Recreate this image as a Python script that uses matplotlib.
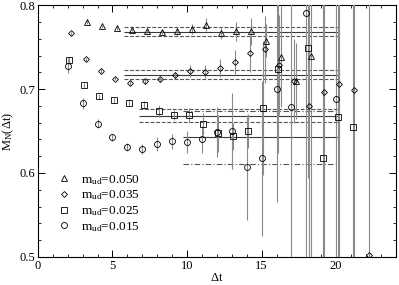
import matplotlib

matplotlib.use("Agg")
import matplotlib.pyplot as plt
from matplotlib.lines import Line2D
import numpy as np

# effective mass data, one set per light-quark mass
T_050 = [3, 4, 5, 6, 7, 8, 9, 10, 11, 12, 13, 14, 15, 16, 17, 18]
M_050 = [0.780, 0.775, 0.773, 0.771, 0.769, 0.768, 0.769, 0.772, 0.777, 0.767,
         0.769, 0.769, 0.758, 0.739, 0.710, 0.740]
E_050 = [0.002, 0.002, 0.002, 0.002, 0.003, 0.003, 0.004, 0.006, 0.0075, 0.007,
         0.011, 0.016, 0.020, 0.060, 0.045, 0.300]

T_035 = [2, 3, 4, 5, 6, 7, 8, 9, 10, 11, 12, 13, 14, 15, 16, 17, 18, 19, 20, 21, 22]
M_035 = [0.7666, 0.7356, 0.7216, 0.7124, 0.708, 0.7097, 0.7117, 0.7168, 0.722,
         0.7208, 0.7255, 0.7323, 0.7427, 0.7475, 0.7288, 0.710, 0.680, 0.697,
         0.706, 0.699, 0.502]
E_035 = [0.002, 0.002, 0.002, 0.002, 0.003, 0.003, 0.003, 0.004, 0.007, 0.008,
         0.011, 0.014, 0.022, 0.040, 0.060, 0.050, 0.300, 0.300, 0.300, 0.300, 0.300]

T_025 = [2, 3, 4, 5, 6, 7, 8, 9, 10, 11, 12, 13, 14, 15, 16, 18, 19, 20, 21]
M_025 = [0.7347, 0.7049, 0.6918, 0.687, 0.6838, 0.681, 0.6742, 0.6691, 0.669,
         0.6584, 0.6476, 0.644, 0.650, 0.6771, 0.724, 0.7494, 0.6181, 0.667, 0.6548]
E_025 = [0.004, 0.003, 0.003, 0.003, 0.004, 0.005, 0.007, 0.006, 0.008, 0.013,
         0.022, 0.016, 0.020, 0.080, 0.100, 0.155, 0.250, 0.350, 0.350]

T_015 = [2, 3, 4, 5, 6, 7, 8, 9, 10, 11, 12, 13, 14, 15, 16, 17, 18, 20]
M_015 = [0.728, 0.683, 0.659, 0.6425, 0.6313, 0.6285, 0.6345, 0.638, 0.6372,
         0.640, 0.6492, 0.650, 0.6067, 0.6174, 0.7007, 0.6783, 0.791, 0.6882]
E_015 = [0.009, 0.007, 0.005, 0.004, 0.005, 0.006, 0.008, 0.009, 0.013, 0.016,
         0.030, 0.045, 0.063, 0.092, 0.135, 0.200, 0.350, 0.350]

# plateau fits: central value, error band, fit range
FIT_MID = [0.7685, 0.7172, 0.6683, 0.6425]
FIT_LO = [0.7637, 0.7117, 0.6611, 0.6110]
FIT_HI = [0.7737, 0.7228, 0.6759, 0.6745]
FIT_T0 = [5.75, 5.75, 6.75, 9.75]
FIT_T1 = [20.2, 20.2, 20.2, 20.2]

LABELS = [r"$\mathrm{m_{ud}}$=0.050", r"$\mathrm{m_{ud}}$=0.035",
          r"$\mathrm{m_{ud}}$=0.025", r"$\mathrm{m_{ud}}$=0.015"]

plt.rcParams.update({
    "font.family": "Liberation Serif",
    "mathtext.fontset": "custom",
    "mathtext.rm": "Liberation Serif",
    "mathtext.it": "Liberation Serif:italic",
    "font.size": 9,
    "xtick.direction": "in",
    "ytick.direction": "in",
})

fig = plt.figure(figsize=(3.99, 2.85), dpi=100)
ax = fig.add_axes([0.095, 0.099, 0.897, 0.882])

sets = [
    (T_050, M_050, E_050, "^", 0.3, 4.2),
    (T_035, M_035, E_035, "D", 0.2, 3.0),
    (T_025, M_025, E_025, "s", 0.1, 3.7),
    (T_015, M_015, E_015, "o", 0.0, 4.3),
]
handles = []
for (t, m, e, mk, off, ms), lab in zip(sets, LABELS):
    ax.errorbar(np.array(t) + off, m, yerr=e, fmt=mk, ms=ms, mfc="none",
                mec="black", mew=0.6, ecolor="#8a8a8a", elinewidth=0.8,
                capsize=0, zorder=3)
    handles.append(Line2D([], [], ls="none", marker=mk, ms=ms, mfc="none",
                          mec="black", mew=0.6, label=lab))

for i in range(4):
    ax.hlines(FIT_MID[i], FIT_T0[i], FIT_T1[i], color="#3a3a3a", lw=0.8, zorder=2)
    ls = (0, (5, 2, 1, 2)) if i == 3 else (0, (3.5, 1.5))
    for v in (FIT_LO[i], FIT_HI[i]):
        ax.hlines(v, FIT_T0[i], FIT_T1[i], color="#555555", lw=0.8,
                  linestyles=[ls], zorder=2)

ax.set_xlim(0, 24)
ax.set_ylim(0.5, 0.8)
ax.set_xticks([0, 5, 10, 15, 20])
ax.set_xticks(np.arange(0, 24.5, 1), minor=True)
ax.set_yticks([0.5, 0.6, 0.7, 0.8])
ax.set_yticks(np.arange(0.5, 0.801, 0.02), minor=True)
ax.tick_params(which="both", top=True, right=True, labelsize=9, pad=2)
ax.tick_params(which="major", length=5, width=0.7)
ax.tick_params(which="minor", length=2.5, width=0.6)
for s in ax.spines.values():
    s.set_linewidth(0.8)

ax.set_xlabel(r"$\mathrm{\Delta t}$", fontsize=9, labelpad=0)
ax.set_ylabel(r"$\mathrm{M_N(\Delta t)}$", fontsize=9, labelpad=2)

leg = ax.legend(handles=handles, loc="lower left", bbox_to_anchor=(0.04, 0.07),
                frameon=False, fontsize=9.5, handlelength=1.0, handletextpad=0.8,
                labelspacing=0.15, borderaxespad=0)

fig.savefig("out.png", dpi=100)
